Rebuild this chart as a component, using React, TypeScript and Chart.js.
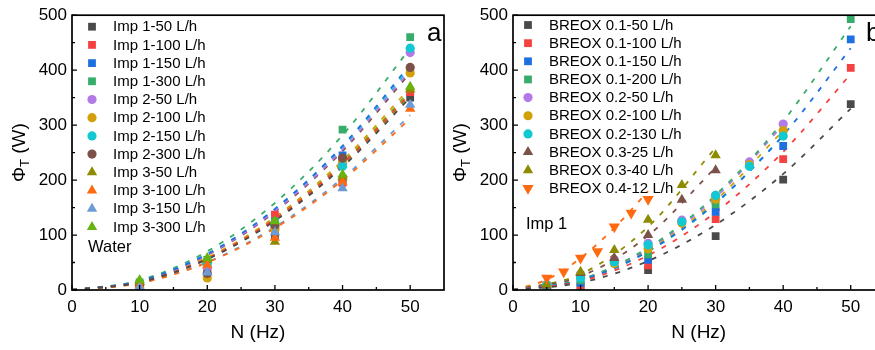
import React, { useEffect, useRef } from 'react';
import { Chart, registerables } from 'chart.js';

Chart.register(...registerables);

const FONT = "'Liberation Sans', Arial, Helvetica, sans-serif";

// ---------- shared axes ----------
const X_TICKS = [0, 10, 20, 30, 40, 50];
const Y_TICKS = [0, 100, 200, 300, 400, 500];
const X_MAX = 55;
const Y_MAX = 500;

// ---------- panel a (Water) ----------
const A_N = [10, 20, 30, 40, 50];
const A_FIT_N = [0, 10, 20, 30, 40, 50];
const A_LABELS = [
  'Imp 1-50 L/h', 'Imp 1-100 L/h', 'Imp 1-150 L/h', 'Imp 1-300 L/h',
  'Imp 2-50 L/h', 'Imp 2-100 L/h', 'Imp 2-150 L/h', 'Imp 2-300 L/h',
  'Imp 3-50 L/h', 'Imp 3-100 L/h', 'Imp 3-150 L/h', 'Imp 3-300 L/h',
];
const aImp1_50 = [10, 38, 100, 200, 350];
const aImp1_100 = [10, 45, 137, 195, 360];
const aImp1_150 = [10, 50, 115, 245, 400];
const aImp1_300 = [14, 55, 125, 292, 460];
const aImp2_50 = [10, 40, 113, 230, 432];
const aImp2_100 = [8, 22, 110, 235, 395];
const aImp2_150 = [10, 48, 120, 225, 440];
const aImp2_300 = [10, 30, 118, 240, 405];
const aImp3_50 = [15, 55, 88, 205, 365];
const aImp3_100 = [8, 45, 95, 196, 330];
const aImp3_150 = [5, 32, 105, 185, 337];
const aImp3_300 = [18, 58, 125, 210, 370];

const aFit1_50 = [0, 14, 56, 126, 224, 350];
const aFit1_100 = [0, 14.3, 57.3, 128.9, 229.1, 358];
const aFit1_150 = [0, 16.4, 65.6, 147.6, 262.4, 410];
const aFit1_300 = [0, 17.6, 70.4, 158.4, 281.6, 440];
const aFit2_50 = [0, 16, 64, 144, 256, 400];
const aFit2_100 = [0, 14.7, 58.9, 132.5, 235.5, 368];
const aFit2_150 = [0, 16.2, 64.8, 145.8, 259.2, 405];
const aFit2_300 = [0, 15.8, 63.2, 142.2, 252.8, 395];
const aFit3_50 = [0, 14.2, 56.8, 127.8, 227.2, 355];
const aFit3_100 = [0, 12.5, 49.9, 112.3, 199.7, 312];
const aFit3_150 = [0, 12.7, 50.9, 114.5, 203.5, 318];
const aFit3_300 = [0, 14.5, 57.9, 130.3, 231.7, 362];

// ---------- panel b (BREOX, Imp 1) ----------
const B_LABELS = [
  'BREOX 0.1-50 L/h', 'BREOX 0.1-100 L/h', 'BREOX 0.1-150 L/h', 'BREOX 0.1-200 L/h',
  'BREOX 0.2-50 L/h', 'BREOX 0.2-100 L/h', 'BREOX 0.2-130 L/h',
  'BREOX 0.3-25 L/h', 'BREOX 0.3-40 L/h', 'BREOX 0.4-12 L/h',
];
const B_SQ_N = [5, 10, 20, 30, 40, 50];
const B_CI_N = [5, 10, 15, 20, 25, 30, 35, 40];
const B_TR_N = [5, 10, 15, 20, 25, 30];
const B_DT_N = [5, 7.5, 10, 12.5, 15, 17.5, 20];

const b01_50 = [3, 5, 36, 98, 201, 338];
const b01_100 = [4, 8, 45, 129, 238, 404];
const b01_150 = [5, 13, 55, 142, 262, 456];
const b01_200 = [6, 18, 65, 156, 283, 493];
const b02_50 = [10, 28, 55, 85, 127, 172, 233, 302];
const b02_100 = [8, 25, 48, 75, 122, 165, 228, 290];
const b02_130 = [9, 22, 51, 82, 124, 172, 225, 280];
const b03_25 = [8, 31, 58, 100, 164, 218];
const b03_40 = [10, 33, 73, 128, 191, 245];
const b04_12 = [22, 33, 58, 70, 115, 140, 165];

const B_FIT_SQ_N = [0, 10, 20, 30, 40, 50];
const B_FIT_CI_N = [0, 10, 20, 30, 40];
const B_FIT_TR_N = [0, 10, 20, 30];
const B_FIT_DT_N = [0, 5, 10, 15, 20];
const bFit01_50 = [0, 13.2, 52.8, 118.8, 211.2, 330];
const bFit01_100 = [0, 15.7, 62.9, 141.5, 251.5, 393];
const bFit01_150 = [0, 17.6, 70.4, 158.4, 281.6, 440];
const bFit01_200 = [0, 19.2, 76.8, 172.8, 307.2, 480];
const bFit02_50 = [0, 18.8, 75, 168.8, 300];
const bFit02_100 = [0, 18.1, 72.5, 163.1, 290];
const bFit02_130 = [0, 17.5, 70, 157.5, 280];
const bFit03_25 = [0, 24.8, 99, 223];
const bFit03_40 = [0, 28.8, 115, 259];
const bFit04_12 = [0, 19, 58, 113, 180];

// ---------- colours ----------
const C = {
  dark: '#4a4a4a',
  red: '#f5413f',
  blue: '#1e6fe0',
  green: '#36ad6a',
  lavender: '#b27ae6',
  gold: '#d4a00a',
  cyan: '#12c9d3',
  brown: '#7c5149',
  olive: '#8e8b00',
  orange: '#ff6a10',
  lightblue: '#6d9cd4',
  ygreen: '#68b310',
};

type Series = {
  label: string; n: number[]; v: number[]; fitN: number[]; fit: number[];
  color: string; style: string; r: number; rot?: number;
};

const SQ = 5.5, CI = 4.6, TR = 6;

const seriesA: Series[] = [
  { label: A_LABELS[0], n: A_N, v: aImp1_50, fitN: A_FIT_N, fit: aFit1_50, color: C.dark, style: 'rect', r: SQ },
  { label: A_LABELS[1], n: A_N, v: aImp1_100, fitN: A_FIT_N, fit: aFit1_100, color: C.red, style: 'rect', r: SQ },
  { label: A_LABELS[2], n: A_N, v: aImp1_150, fitN: A_FIT_N, fit: aFit1_150, color: C.blue, style: 'rect', r: SQ },
  { label: A_LABELS[3], n: A_N, v: aImp1_300, fitN: A_FIT_N, fit: aFit1_300, color: C.green, style: 'rect', r: SQ },
  { label: A_LABELS[4], n: A_N, v: aImp2_50, fitN: A_FIT_N, fit: aFit2_50, color: C.lavender, style: 'circle', r: CI },
  { label: A_LABELS[5], n: A_N, v: aImp2_100, fitN: A_FIT_N, fit: aFit2_100, color: C.gold, style: 'circle', r: CI },
  { label: A_LABELS[6], n: A_N, v: aImp2_150, fitN: A_FIT_N, fit: aFit2_150, color: C.cyan, style: 'circle', r: CI },
  { label: A_LABELS[7], n: A_N, v: aImp2_300, fitN: A_FIT_N, fit: aFit2_300, color: C.brown, style: 'circle', r: CI },
  { label: A_LABELS[8], n: A_N, v: aImp3_50, fitN: A_FIT_N, fit: aFit3_50, color: C.olive, style: 'triangle', r: TR },
  { label: A_LABELS[9], n: A_N, v: aImp3_100, fitN: A_FIT_N, fit: aFit3_100, color: C.orange, style: 'triangle', r: TR },
  { label: A_LABELS[10], n: A_N, v: aImp3_150, fitN: A_FIT_N, fit: aFit3_150, color: C.lightblue, style: 'triangle', r: TR },
  { label: A_LABELS[11], n: A_N, v: aImp3_300, fitN: A_FIT_N, fit: aFit3_300, color: C.ygreen, style: 'triangle', r: TR },
];

const seriesB: Series[] = [
  { label: B_LABELS[0], n: B_SQ_N, v: b01_50, fitN: B_FIT_SQ_N, fit: bFit01_50, color: C.dark, style: 'rect', r: SQ },
  { label: B_LABELS[1], n: B_SQ_N, v: b01_100, fitN: B_FIT_SQ_N, fit: bFit01_100, color: C.red, style: 'rect', r: SQ },
  { label: B_LABELS[2], n: B_SQ_N, v: b01_150, fitN: B_FIT_SQ_N, fit: bFit01_150, color: C.blue, style: 'rect', r: SQ },
  { label: B_LABELS[3], n: B_SQ_N, v: b01_200, fitN: B_FIT_SQ_N, fit: bFit01_200, color: C.green, style: 'rect', r: SQ },
  { label: B_LABELS[4], n: B_CI_N, v: b02_50, fitN: B_FIT_CI_N, fit: bFit02_50, color: C.lavender, style: 'circle', r: CI },
  { label: B_LABELS[5], n: B_CI_N, v: b02_100, fitN: B_FIT_CI_N, fit: bFit02_100, color: C.gold, style: 'circle', r: CI },
  { label: B_LABELS[6], n: B_CI_N, v: b02_130, fitN: B_FIT_CI_N, fit: bFit02_130, color: C.cyan, style: 'circle', r: CI },
  { label: B_LABELS[7], n: B_TR_N, v: b03_25, fitN: B_FIT_TR_N, fit: bFit03_25, color: C.brown, style: 'triangle', r: TR },
  { label: B_LABELS[8], n: B_TR_N, v: b03_40, fitN: B_FIT_TR_N, fit: bFit03_40, color: C.olive, style: 'triangle', r: TR },
  { label: B_LABELS[9], n: B_DT_N, v: b04_12, fitN: B_FIT_DT_N, fit: bFit04_12, color: C.orange, style: 'triangle', r: 6.5, rot: 180 },
];

function pts(n: number[], v: number[]) {
  return n.map((x, i) => ({ x, y: v[i] }));
}

function drawMarker(ctx: CanvasRenderingContext2D, style: string, x: number, y: number, r: number, color: string, rot = 0) {
  ctx.save();
  ctx.fillStyle = color;
  ctx.beginPath();
  if (style === 'rect') {
    const s = r * Math.SQRT1_2;
    ctx.rect(x - s, y - s, 2 * s, 2 * s);
  } else if (style === 'circle') {
    ctx.arc(x, y, r, 0, Math.PI * 2);
  } else {
    const sg = rot === 180 ? -1 : 1;
    ctx.moveTo(x, y - sg * r);
    ctx.lineTo(x + 0.866 * r, y + sg * 0.5 * r);
    ctx.lineTo(x - 0.866 * r, y + sg * 0.5 * r);
    ctx.closePath();
  }
  ctx.fill();
  ctx.restore();
}

type Deco = {
  series: Series[];
  markerX: number; textX: number; rowY0: number; rowDY: number;
  note: string; noteX: number; noteY: number;
  letter: string; letterX: number; letterY: number;
  yTitleX: number;
};

function decoPlugin(d: Deco) {
  return {
    id: 'deco',
    afterDraw(chart: any) {
      const ctx: CanvasRenderingContext2D = chart.ctx;
      const { left, right, top, bottom } = chart.chartArea;
      const xs = chart.scales.x;
      const ys = chart.scales.y;
      ctx.save();
      // frame
      ctx.strokeStyle = '#000';
      ctx.lineWidth = 1.7;
      ctx.strokeRect(left, top, right - left, bottom - top);
      // inward ticks
      ctx.lineWidth = 1.3;
      ctx.beginPath();
      const xStep = X_TICKS[1] - X_TICKS[0];
      X_TICKS.forEach((v) => {
        const p = xs.getPixelForValue(v);
        ctx.moveTo(p, bottom);
        ctx.lineTo(p, bottom - 5);
        const mv = v + xStep / 2;
        if (mv < X_MAX) {
          const mp = xs.getPixelForValue(mv);
          ctx.moveTo(mp, bottom);
          ctx.lineTo(mp, bottom - 3);
        }
      });
      const yStep = Y_TICKS[1] - Y_TICKS[0];
      Y_TICKS.forEach((v) => {
        const p = ys.getPixelForValue(v);
        ctx.moveTo(left, p);
        ctx.lineTo(left + 5, p);
        const mv = v + yStep / 2;
        if (mv < Y_MAX) {
          const mp = ys.getPixelForValue(mv);
          ctx.moveTo(left, mp);
          ctx.lineTo(left + 3, mp);
        }
      });
      ctx.stroke();

      ctx.fillStyle = '#000';
      // x title
      ctx.font = `19px ${FONT}`;
      ctx.textAlign = 'center';
      ctx.textBaseline = 'middle';
      ctx.fillText('N (Hz)', (left + right) / 2, 333);

      // y title  Φ_T (W)
      ctx.save();
      ctx.translate(d.yTitleX, (top + bottom) / 2);
      ctx.rotate(-Math.PI / 2);
      ctx.textAlign = 'left';
      ctx.textBaseline = 'alphabetic';
      ctx.font = `19px ${FONT}`;
      const w1 = ctx.measureText('Φ').width;
      const w3 = ctx.measureText(' (W)').width;
      ctx.font = `13px ${FONT}`;
      const w2 = ctx.measureText('T').width;
      let sx = -(w1 + w2 + w3) / 2;
      const base = 7;
      ctx.font = `19px ${FONT}`;
      ctx.fillText('Φ', sx, base);
      sx += w1;
      ctx.font = `13px ${FONT}`;
      ctx.fillText('T', sx, base + 4);
      sx += w2;
      ctx.font = `19px ${FONT}`;
      ctx.fillText(' (W)', sx, base);
      ctx.restore();

      // legend
      ctx.font = `15px ${FONT}`;
      ctx.textAlign = 'left';
      ctx.textBaseline = 'middle';
      d.series.forEach((s, i) => {
        const y = d.rowY0 + i * d.rowDY;
        drawMarker(ctx, s.style, d.markerX, y, s.r, s.color, s.rot || 0);
        ctx.fillStyle = '#000';
        ctx.fillText(s.label, d.textX, y + 0.5);
      });

      // note
      ctx.font = `16.5px ${FONT}`;
      ctx.fillText(d.note, d.noteX, d.noteY);

      // panel letter
      ctx.font = `26px ${FONT}`;
      ctx.textBaseline = 'alphabetic';
      ctx.fillText(d.letter, d.letterX, d.letterY);
      ctx.restore();
    },
  };
}

function buildConfig(series: Series[], deco: Deco): any {
  const n = series.length;
  const fitSets = series.map((s) => ({
    label: s.label + ' fit',
    data: pts(s.fitN, s.fit),
    borderColor: s.color,
    borderWidth: 1.8,
    borderDash: [5, 8],
    pointRadius: 0,
    showLine: true,
    fill: false,
    cubicInterpolationMode: 'monotone',
    order: 1000,
  }));
  const markSets = series.map((s, i) => ({
    label: s.label,
    data: pts(s.n, s.v),
    showLine: false,
    pointStyle: s.style,
    pointRadius: s.r,
    pointRotation: s.rot || 0,
    pointBackgroundColor: s.color,
    pointBorderColor: s.color,
    pointBorderWidth: 0,
    borderColor: s.color,
    backgroundColor: s.color,
    order: n - i,
  }));
  return {
    type: 'line',
    data: { datasets: [...fitSets, ...markSets] },
    options: {
      animation: false,
      responsive: false,
      events: [],
      layout: { padding: { top: 15, right: 3, left: 0, bottom: 0 } },
      plugins: { legend: { display: false }, tooltip: { enabled: false }, title: { display: false } },
      scales: {
        x: {
          type: 'linear',
          min: 0,
          max: X_MAX,
          grid: { display: false, drawTicks: false },
          border: { display: false },
          ticks: { color: '#000', font: { family: FONT, size: 17 }, padding: 7, maxRotation: 0 },
          afterBuildTicks: (sc: any) => { sc.ticks = X_TICKS.map((v) => ({ value: v })); },
          afterFit: (sc: any) => { sc.height = 60; },
        },
        y: {
          type: 'linear',
          min: 0,
          max: Y_MAX,
          grid: { display: false, drawTicks: false },
          border: { display: false },
          ticks: { color: '#000', font: { family: FONT, size: 17 }, padding: 5 },
          afterBuildTicks: (sc: any) => { sc.ticks = Y_TICKS.map((v) => ({ value: v })); },
          afterFit: (sc: any) => { sc.width = 72; },
        },
      },
    },
    plugins: [decoPlugin(deco)],
  };
}

export default function App() {
  const refA = useRef<HTMLCanvasElement | null>(null);
  const refB = useRef<HTMLCanvasElement | null>(null);

  useEffect(() => {
    const ca = new Chart(refA.current as HTMLCanvasElement, buildConfig(seriesA, {
      series: seriesA, markerX: 92, textX: 113, rowY0: 26.7, rowDY: 18.2,
      note: 'Water', noteX: 88, noteY: 247,
      letter: 'a', letterX: 427, letterY: 41,
      yTitleX: 18,
    }));
    const cb = new Chart(refB.current as HTMLCanvasElement, buildConfig(seriesB, {
      series: seriesB, markerX: 528 - 441, textX: 549 - 441, rowY0: 25, rowDY: 18.15,
      note: 'Imp 1', noteX: 526 - 441, noteY: 224,
      letter: 'b', letterX: 866 - 441, letterY: 41,
      yTitleX: 18,
    }));
    return () => { ca.destroy(); cb.destroy(); };
  }, []);

  return (
    <div style={{ position: 'fixed', left: 0, top: 0, width: 875, height: 350, overflow: 'hidden', background: '#fff' }}>
      <canvas ref={refA} width={450} height={350} style={{ position: 'absolute', left: 0, top: 0, width: 450, height: 350 }} />
      <canvas ref={refB} width={450} height={350} style={{ position: 'absolute', left: 441, top: 0, width: 450, height: 350 }} />
    </div>
  );
}
